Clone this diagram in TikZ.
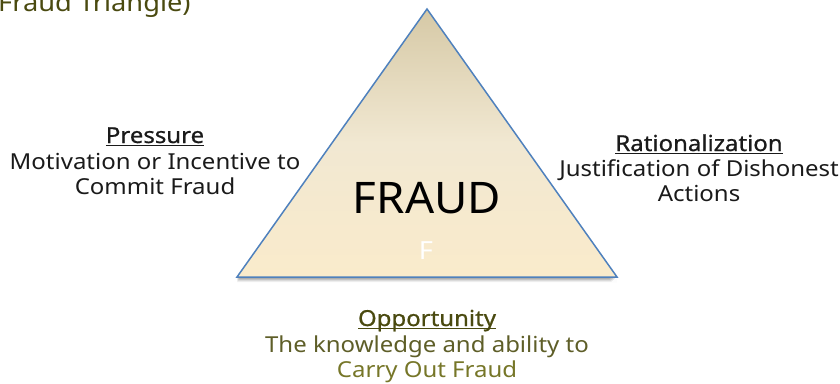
\documentclass[tikz,border=0pt]{standalone}
\usepackage{fontspec}
\setmainfont{Noto Sans}[FakeStretch=1.09]
\newfontfamily\headfont{Noto Sans}[FakeBold=0.8,FakeStretch=1.09]
\newfontfamily\bigfont{Noto Sans}[FakeStretch=1.05]
\definecolor{olivedark}{HTML}{4A4A10}
\definecolor{olivemid}{HTML}{5E5E28}
\definecolor{olivelight}{HTML}{767628}
\definecolor{triborder}{HTML}{4F81BD}
\definecolor{tritop}{HTML}{D6C9A6}
\definecolor{trimid}{HTML}{F1E8D2}
\definecolor{tribot}{HTML}{FAEBCB}
\definecolor{txt}{HTML}{1A1A1A}
\newcommand\myul[1]{\setbox0\hbox{#1}\rlap{\rule[-3pt]{\wd0}{1.2pt}}\box0}
\tikzset{
  body/.style={font=\fontsize{22}{25}\selectfont, inner sep=0pt, anchor=base, text=txt},
  head/.style={font=\fontsize{22}{25}\headfont, inner sep=0pt, anchor=base, text=txt},
}
\begin{document}
\begin{tikzpicture}[x=1pt,y=-1pt]
\useasboundingbox (0,0) rectangle (840,383);
% title (cut at the top, as in the reference)
\node[font=\fontsize{25}{29}\selectfont, text=olivedark, inner sep=0pt, anchor=base west] (title) at (-2,11) {Fraud Triangle)};
% triangle
\coordinate (apex) at (427,9);
\coordinate (bl) at (237,277);
\coordinate (br) at (617,277);
\foreach \d/\o in {5/0.06,4/0.08,3/0.1,2/0.12}{
  \fill[black, opacity=\o] ([yshift=-\d pt]bl) -- ([yshift=-\d pt]br) -- ([yshift=-\d pt, xshift=-\d pt]br) -- (apex) -- cycle;
}
\shade[top color=tritop, bottom color=tribot, middle color=trimid] (apex) -- (br) -- (bl) -- cycle;
\draw[triborder, line width=1.5pt, line join=miter] (apex) -- (br) -- (bl) -- cycle;
\node[font=\fontsize{43.5}{48}\bigfont, inner sep=0pt, anchor=base, text=black] (fraud) at (427,213) {FRAUD};
\node[font=\fontsize{25}{28}\selectfont, inner sep=0pt, anchor=base, text=white] (f) at (426,259) {F};
% pressure
\node[head] (presH) at (155,143) {\myul{Pressure}};
\node[body] (presA) at (155,169) {Motivation or Incentive to};
\node[body] (presB) at (155,194) {Commit Fraud};
% rationalization
\node[head] (ratH) at (699,151) {\myul{Rationalization}};
\node[body] (ratA) at (699,176) {Justification of Dishonest};
\node[body] (ratB) at (699,201) {Actions};
% opportunity
\node[head, text=olivedark] (oppH) at (427,326) {\myul{Opportunity}};
\node[body, text=olivemid] (oppA) at (427,352) {The knowledge and ability to};
\node[body, text=olivelight] (oppB) at (427,377) {Carry Out Fraud};
\end{tikzpicture}
\end{document}
